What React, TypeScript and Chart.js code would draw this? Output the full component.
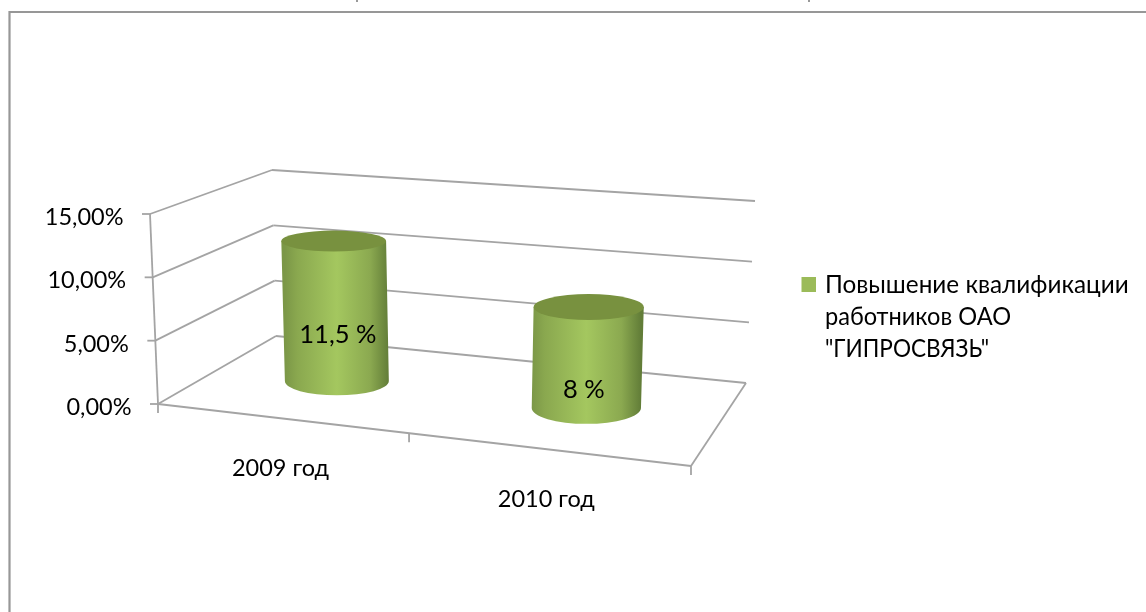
import React, { useEffect, useRef } from "react";
import { Chart, registerables } from "chart.js";

Chart.register(...registerables);

const categories = ["2009 год", "2010 год"];
const seriesLabelLines = ["Повышение квалификации", "работников ОАО", "\"ГИПРОСВЯЗЬ\""];
const seriesValues = [11.5, 8];
const dataLabels = ["11,5 %", "8 %"];
const yTickValues = [0, 5, 10, 15];

const FONT = "Lato, 'Open Sans', sans-serif";
const GRID = "#a4a4a4";

type P = [number, number];
const lerp = (a: number, b: number, t: number) => a + (b - a) * t;
const lerpP = (a: P, b: P, t: number): P => [lerp(a[0], b[0], t), lerp(a[1], b[1], t)];
const warp = (u: number) => u / (u + (1 - u) * 1.123);

// Corners of the drawn box (layout only).
const FL0: P = [158, 404];
const FL1: P = [150, 214];
const BL0: P = [276, 336];
const BL1: P = [272, 170];
const BR0: P = [746, 383];
const BR1: P = [755, 201];
const FR0: P = [691, 466];

const line = (ctx: CanvasRenderingContext2D, a: P, b: P) => {
  ctx.beginPath();
  ctx.moveTo(a[0], a[1]);
  ctx.lineTo(b[0], b[1]);
  ctx.stroke();
};

const scene = {
  id: "scene",
  beforeDatasetsDraw(chart: any) {
    const { ctx, scales, chartArea } = chart;
    const y = scales.y;
    const x = scales.x;
    ctx.save();
    // Frame cut by the picture's edge
    ctx.strokeStyle = "#979797";
    ctx.lineWidth = 2.2;
    ctx.beginPath();
    ctx.moveTo(1146, 12);
    ctx.lineTo(9.5, 12);
    ctx.lineTo(9.5, 612);
    ctx.stroke();
    ctx.lineWidth = 1.5;
    ctx.strokeStyle = "#777";
    line(ctx, [357, 0], [357, 2]);
    line(ctx, [809, 0], [809, 2]);

    ctx.strokeStyle = GRID;
    ctx.lineWidth = 1.8;
    ctx.fillStyle = "#000";
    ctx.font = `23.5px ${FONT}`;
    ctx.textBaseline = "middle";
    ctx.textAlign = "right";
    y.ticks.forEach((tick: any) => {
      const t = (chartArea.bottom - y.getPixelForValue(tick.value)) / (chartArea.bottom - chartArea.top);
      const fl = lerpP(FL0, FL1, t);
      const bl = lerpP(BL0, BL1, t);
      const br = lerpP(BR0, BR1, t);
      line(ctx, fl, bl);
      line(ctx, bl, br);
      line(ctx, [fl[0] - 8, fl[1]], fl);
      ctx.fillText(tick.label, fl[0] - 26.5, fl[1] + 3.5);
    });
    line(ctx, FL0, FL1);
    line(ctx, BR0, FR0);
    line(ctx, FL0, FR0);
    [0, 0.5, 1].forEach((u) => {
      const p = lerpP(FL0, FR0, warp(u));
      line(ctx, p, [p[0], p[1] + 9]);
    });
    ctx.textAlign = "center";
    x.ticks.forEach((tick: any, i: number) => {
      const u = (x.getPixelForTick(i) - chartArea.left) / (chartArea.right - chartArea.left);
      const p = lerpP(FL0, FR0, warp(u));
      ctx.fillText(tick.label, p[0] + 0.5, p[1] + 50);
    });
    // Legend
    ctx.fillStyle = "#9bbb59";
    ctx.fillRect(801.5, 277, 14.5, 15);
    ctx.fillStyle = "#000";
    ctx.textAlign = "left";
    ctx.textBaseline = "alphabetic";
    ctx.font = `24.3px ${FONT}`;
    const fitWidths = [304, 186, 164];
    seriesLabelLines.forEach((l, i) => ctx.fillText(l, 825, 292.5 + i * 32, fitWidths[i]));
    ctx.restore();
  },
  afterDatasetsDraw(chart: any) {
    const { ctx, chartArea } = chart;
    const meta = chart.getDatasetMeta(0);
    const ratio = (py: number) => 0.2 + (py - 242) * 0.000535;
    ctx.save();
    meta.data.forEach((bar: any, i: number) => {
      const u = (bar.x - chartArea.left) / (chartArea.right - chartArea.left);
      const w = warp(u);
      const front = lerpP(FL0, FR0, w);
      const back = lerpP(BL0, BR0, w);
      const base = lerpP(front, back, 0.52);
      const bx = base[0] + 3;
      const by = base[1];
      const h = (bar.base - bar.y) * (0.943 + 0.072 * u);
      const value = seriesValues[i];
      const lean = (lerp(-8, 9, w) * value) / 15;
      const tx = bx + lean;
      const ty = by - h;
      const rxB = (bar.width / 2) * (0.95 + 0.1 * u);
      const rxT = rxB * 1.008;
      const ryB = rxB * ratio(by);
      const ryT = rxT * ratio(ty);

      const g = ctx.createLinearGradient(bx - rxB, 0, bx + rxB, 0);
      g.addColorStop(0, "#7b9747");
      g.addColorStop(0.12, "#8aa84f");
      g.addColorStop(0.5, "#a4c75f");
      g.addColorStop(0.82, "#8ba950");
      g.addColorStop(1, "#627d38");
      ctx.fillStyle = g;
      ctx.beginPath();
      ctx.moveTo(tx - rxT, ty);
      ctx.lineTo(bx - rxB, by);
      ctx.ellipse(bx, by, rxB, ryB, 0, Math.PI, 0, true);
      ctx.lineTo(tx + rxT, ty);
      ctx.closePath();
      ctx.fill();

      ctx.fillStyle = "#78913f";
      ctx.beginPath();
      ctx.ellipse(tx, ty, rxT, ryT, 0, 0, Math.PI * 2);
      ctx.fill();

      const shift = [
        [1, 46],
        [-2.5, 18],
      ][i];
      ctx.fillStyle = "#000";
      ctx.font = `25.5px ${FONT}`;
      ctx.textAlign = "center";
      ctx.textBaseline = "middle";
      ctx.fillText(dataLabels[i], bx + shift[0], by - shift[1]);
    });
    ctx.restore();
  },
};

export default function App() {
  const ref = useRef<HTMLCanvasElement>(null);
  useEffect(() => {
    const chart = new Chart(ref.current!, {
      type: "bar",
      data: {
        labels: categories,
        datasets: [
          {
            label: seriesLabelLines.join(" "),
            data: seriesValues,
            backgroundColor: "rgba(0,0,0,0)",
            barPercentage: 1,
            categoryPercentage: 0.4,
          },
        ],
      },
      options: {
        animation: false,
        responsive: false,
        layout: { padding: { left: 158, right: 455, top: 214, bottom: 208 } },
        plugins: { legend: { display: false }, tooltip: { enabled: false } },
        scales: {
          x: { display: false },
          y: {
            display: false,
            min: 0,
            max: 15,
            afterBuildTicks: (s: any) => {
              s.ticks = yTickValues.map((value) => ({ value }));
            },
            ticks: { callback: (v: any) => `${Number(v).toFixed(2).replace(".", ",")}%` },
          },
        },
      },
      plugins: [scene],
    } as any);
    return () => chart.destroy();
  }, []);
  return (
    <div style={{ position: "fixed", left: 0, top: 0, width: 1146, height: 612, background: "#fff" }}>
      <canvas ref={ref} width={1146} height={612} style={{ display: "block" }} />
    </div>
  );
}
